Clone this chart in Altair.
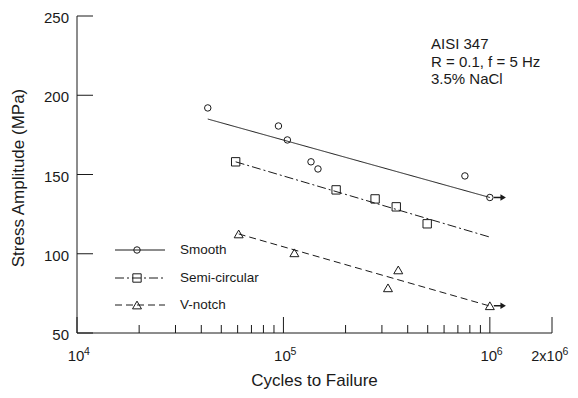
import altair as alt
import pandas as pd

# ---- data ----
smooth_cycles = [43000, 94600, 104500, 136000, 147000, 757000, 1000000]
smooth_stress = [192, 180.6, 171.8, 158, 153.5, 149.1, 135.5]
semi_cycles = [58700, 180000, 278000, 352000, 497000]
semi_stress = [158, 140.3, 134.6, 129.6, 118.9]
vnotch_cycles = [60700, 113000, 321000, 360000, 1000000]
vnotch_stress = [112.5, 100.6, 78.5, 89.8, 67.2]

smooth_fit_cycles = [43000, 1000000]
smooth_fit_stress = [185, 135.5]
semi_fit_cycles = [58700, 1000000]
semi_fit_stress = [158, 110.5]
vnotch_fit_cycles = [60700, 1000000]
vnotch_fit_stress = [112.5, 67]

runout_start = [1045000, 1045000]
runout_end = [1160000, 1160000]
runout_stress = [135.5, 67.2]

series = ["Smooth", "Semi-circular", "V-notch"]
shapes = ["circle", "square", "triangle-up"]
sizes = [42, 70, 80]
dashes = [[1, 0], [9, 3, 2, 3], [7, 4]]

x_major = [1e4, 1e5, 1e6]
x_major_base = ["10", "10", "10"]
x_major_exp = ["4", "5", "6"]
x_end = [2e6]
x_end_base = ["2x10"]
x_end_exp = ["6"]
x_minor = [2e4, 3e4, 4e4, 5e4, 6e4, 7e4, 8e4, 9e4,
           2e5, 3e5, 4e5, 5e5, 6e5, 7e5, 8e5, 9e5]
y_ticks = [50, 100, 150, 200, 250]
annotation = ["AISI 347", "R = 0.1, f = 5 Hz", "3.5% NaCl"]

FONT = "Liberation Sans"
INK = "#1a1a1a"
W, H = 475, 317

xs = alt.Scale(type="log", domain=[1e4, 2e6], nice=False)
ys = alt.Scale(domain=[50, 250], nice=False, zero=False)
X = lambda f: alt.X(f, type="quantitative", scale=xs, axis=None)
Y = lambda f: alt.Y(f, type="quantitative", scale=ys, axis=None)

one = pd.DataFrame({"d": [0]})
layers = []

# axes lines
layers.append(alt.Chart(one).mark_rule(color=INK, strokeWidth=1).encode(
    x=alt.value(0), y=alt.value(0), y2=alt.value(H)))
layers.append(alt.Chart(one).mark_rule(color=INK, strokeWidth=1).encode(
    x=alt.value(0), x2=alt.value(W), y=alt.value(H)))

# x ticks (inward)
maj = pd.DataFrame({"c": x_major + x_end})
layers.append(alt.Chart(maj).mark_rule(color=INK, strokeWidth=1).encode(
    x=X("c"), y=alt.value(H - 16), y2=alt.value(H)))
mnr = pd.DataFrame({"c": x_minor})
layers.append(alt.Chart(mnr).mark_rule(color=INK, strokeWidth=1).encode(
    x=X("c"), y=alt.value(H - 8), y2=alt.value(H)))

# y ticks (inward)
yt = pd.DataFrame({"s": y_ticks, "t": [str(v) for v in y_ticks]})
layers.append(alt.Chart(yt).mark_rule(color=INK, strokeWidth=1).encode(
    y=Y("s"), x=alt.value(0), x2=alt.value(16)))
layers.append(alt.Chart(yt).mark_text(font=FONT, fontSize=15, align="right",
                                      baseline="middle", dy=2, color=INK).encode(
    y=Y("s"), x=alt.value(-8), text="t:N"))

# x tick labels with superscripts
xl = pd.DataFrame({"c": x_major, "b": x_major_base, "e": x_major_exp})
layers.append(alt.Chart(xl).mark_text(font=FONT, fontSize=15, align="center",
                                      baseline="alphabetic", dx=-1, color=INK).encode(
    x=X("c"), y=alt.value(H + 28), text="b:N"))
layers.append(alt.Chart(xl).mark_text(font=FONT, fontSize=10.5, align="left",
                                      baseline="alphabetic", dx=7, color=INK).encode(
    x=X("c"), y=alt.value(H + 22), text="e:N"))
xe = pd.DataFrame({"c": x_end, "b": x_end_base, "e": x_end_exp})
layers.append(alt.Chart(xe).mark_text(font=FONT, fontSize=14.5, align="center",
                                      baseline="alphabetic", dx=-5, color=INK).encode(
    x=X("c"), y=alt.value(H + 28), text="b:N"))
layers.append(alt.Chart(xe).mark_text(font=FONT, fontSize=10.5, align="left",
                                      baseline="alphabetic", dx=10.5, color=INK).encode(
    x=X("c"), y=alt.value(H + 22), text="e:N"))

# axis titles
layers.append(alt.Chart(one).mark_text(font=FONT, fontSize=17, align="center",
                                       baseline="alphabetic", text="Cycles to Failure",
                                       color=INK).encode(
    x=alt.value(W / 2), y=alt.value(H + 53)))
layers.append(alt.Chart(one).mark_text(font=FONT, fontSize=17, align="center",
                                       baseline="middle", angle=270,
                                       text="Stress Amplitude (MPa)", color=INK).encode(
    x=alt.value(-58), y=alt.value(162)))

# fitted lines
fits = [(smooth_fit_cycles, smooth_fit_stress),
        (semi_fit_cycles, semi_fit_stress),
        (vnotch_fit_cycles, vnotch_fit_stress)]
for (fc, fsv), dsh in zip(fits, dashes):
    df = pd.DataFrame({"c": fc, "s": fsv})
    layers.append(alt.Chart(df).mark_line(color=INK, strokeWidth=1, strokeDash=dsh).encode(
        x=X("c"), y=Y("s")))

# data points
pts = [(smooth_cycles, smooth_stress), (semi_cycles, semi_stress),
       (vnotch_cycles, vnotch_stress)]
for (pc, ps), shp, sz in zip(pts, shapes, sizes):
    df = pd.DataFrame({"c": pc, "s": ps})
    layers.append(alt.Chart(df).mark_point(shape=shp, size=sz, filled=False,
                                           color=INK, strokeWidth=1, opacity=1).encode(
        x=X("c"), y=Y("s")))

# run-out arrows
ro = pd.DataFrame({"c0": runout_start, "c1": runout_end, "s": runout_stress})
layers.append(alt.Chart(ro).mark_rule(color=INK, strokeWidth=1.5).encode(
    x=X("c0"), x2=alt.X2("c1"), y=Y("s")))
layers.append(alt.Chart(ro).mark_point(shape="triangle-right", size=40, filled=True,
                                       color=INK, opacity=1).encode(
    x=X("c1"), y=Y("s")))

# legend (drawn by hand)
rows = [234, 262, 289]
for name, shp, sz, dsh, ry in zip(series, shapes, sizes, dashes, rows):
    layers.append(alt.Chart(one).mark_rule(color=INK, strokeWidth=1, strokeDash=dsh).encode(
        x=alt.value(38), x2=alt.value(88), y=alt.value(ry)))
    layers.append(alt.Chart(one).mark_point(shape=shp, size=sz, filled=False, color=INK,
                                            strokeWidth=1, opacity=1).encode(
        x=alt.value(60), y=alt.value(ry)))
    layers.append(alt.Chart(one).mark_text(font=FONT, fontSize=13.5, align="left",
                                           baseline="middle", text=name, color=INK).encode(
        x=alt.value(103), y=alt.value(ry)))

# annotation
layers.append(alt.Chart(one).mark_text(font=FONT, fontSize=15, align="left",
                                       baseline="alphabetic", lineBreak="\n",
                                       lineHeight=17.5, text="\n".join(annotation),
                                       color=INK).encode(
    x=alt.value(354), y=alt.value(33)))

chart = alt.layer(*layers).properties(
    width=W, height=H,
    autosize=alt.AutoSizeParams(type="none"),
    padding={"left": 69, "top": 8, "right": 18, "bottom": 57},
).configure_view(stroke=None)

chart.save("out.html", embed_options={"renderer": "svg", "actions": False})
